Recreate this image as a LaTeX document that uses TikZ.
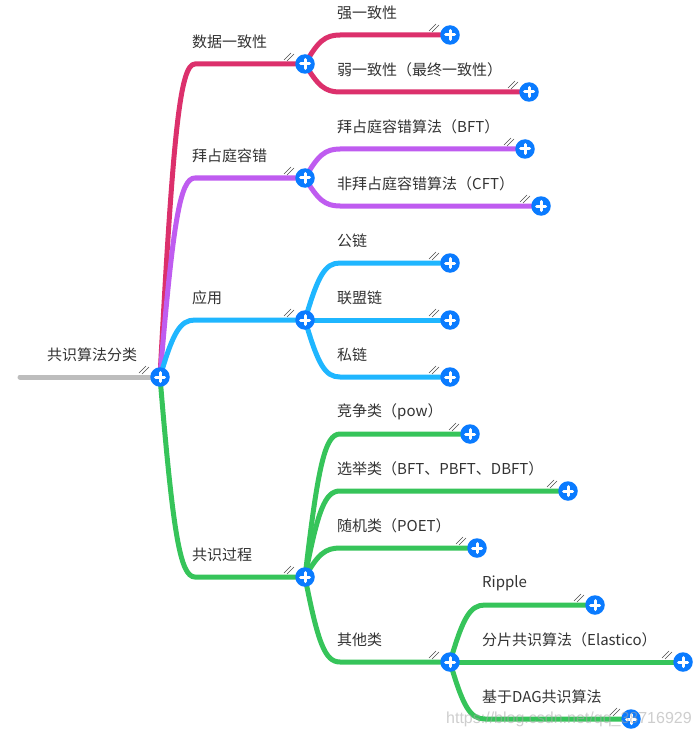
\documentclass[tikz,border=0pt]{standalone}
\usepackage{fontspec}
\setmainfont{Noto Sans CJK SC}
\newfontfamily\wmfont{Liberation Sans}
\usetikzlibrary{calc,backgrounds}
\definecolor{cpink}{HTML}{DC306C}
\definecolor{cpurple}{HTML}{BF5CF0}
\definecolor{cblue}{HTML}{1FB6FF}
\definecolor{cgreen}{HTML}{36C45A}
\definecolor{cgrey}{HTML}{BDBDBD}
\definecolor{ctog}{HTML}{0A7BFF}
\definecolor{ctext}{HTML}{333333}
\tikzset{
  toggle/.style={circle,fill=ctog,minimum size=19.5pt,inner sep=0pt},
  plusbar/.style={line width=3pt,white,line cap=round},
  hashmark/.style={line width=0.6pt,black!70},
  lab/.style={anchor=west,inner sep=0pt,text=ctext,font=\fontsize{15}{18}\selectfont},
  conn/.style={line width=5pt,line cap=round},
  wm/.style={anchor=west,inner sep=0pt,text=black!35,opacity=.55,font=\wmfont\fontsize{16}{20}\selectfont}
}
\newcommand{\togg}[2]{%
  \node[toggle] (#1) at (#2) {};
  \draw[plusbar] ($(#1)+(-4.5,0)$) -- ($(#1)+(4.5,0)$);
  \draw[plusbar] ($(#1)+(0,-4.5)$) -- ($(#1)+(0,4.5)$);
  \draw[hashmark] ($(#1)+(-21,-4)$) -- ($(#1)+(-14,-11)$);
  \draw[hashmark] ($(#1)+(-18,-3)$) -- ($(#1)+(-11,-10)$);
}
% branch from toggle a to toggle b, with a rounded elbow
\newcommand{\branch}[3]{%
  \draw[conn,#3] let \p1=(#1.center),\p2=(#2.center) in
    (\p1) .. controls (\x1+13pt,{\y1+0.78*(\y2-\y1)}) and (\x1+20pt,\y2) .. (\x1+35pt,\y2) -- (\p2);
}
\begin{document}
\begin{tikzpicture}[x=1pt,y=-1pt]
\useasboundingbox (0,0) rectangle (699,738);
\coordinate (start) at (20,377);
\togg{root}{160,377}
\togg{data}{305,64}
\togg{strong}{450,35}
\togg{weak}{529,92}
\togg{byz}{305,178}
\togg{bft}{525,149}
\togg{cft}{541,206}
\togg{app}{305,320}
\togg{pub}{450,263}
\togg{cons}{450,320}
\togg{priv}{450,377}
\togg{proc}{305,577}
\togg{pow}{470,434}
\togg{vote}{568,491}
\togg{rand}{477,548}
\togg{other}{450,662}
\togg{rip}{595,605}
\togg{shard}{683,662}
\togg{dag}{631,719}
\begin{scope}[on background layer]
  \fill[white] (0,0) rectangle (699,738);
  \draw[conn,cgrey] (start) -- (root.center);
  \branch{root}{data}{cpink}
  \branch{data}{strong}{cpink}
  \branch{data}{weak}{cpink}
  \branch{root}{byz}{cpurple}
  \branch{byz}{bft}{cpurple}
  \branch{byz}{cft}{cpurple}
  \branch{root}{app}{cblue}
  \branch{app}{pub}{cblue}
  \branch{app}{cons}{cblue}
  \branch{app}{priv}{cblue}
  \branch{root}{proc}{cgreen}
  \branch{proc}{pow}{cgreen}
  \branch{proc}{vote}{cgreen}
  \branch{proc}{rand}{cgreen}
  \branch{proc}{other}{cgreen}
  \branch{other}{rip}{cgreen}
  \branch{other}{shard}{cgreen}
  \branch{other}{dag}{cgreen}
\end{scope}
\node[lab] (l0) at (47,355) {共识算法分类};
\node[lab] (l1) at (192,42) {数据一致性};
\node[lab] (l2) at (337,13) {强一致性};
\node[lab] (l3) at (337,70) {弱一致性（最终一致性）};
\node[lab] (l4) at (192,156) {拜占庭容错};
\node[lab] (l5) at (337,127) {拜占庭容错算法（BFT）};
\node[lab] (l6) at (337,184) {非拜占庭容错算法（CFT）};
\node[lab] (l7) at (192,298) {应用};
\node[lab] (l8) at (337,241) {公链};
\node[lab] (l9) at (337,298) {联盟链};
\node[lab] (l10) at (337,355) {私链};
\node[lab] (l11) at (192,555) {共识过程};
\node[lab] (l12) at (337,412) {竞争类（pow）};
\node[lab] (l13) at (337,469) {选举类（BFT、PBFT、DBFT）};
\node[lab] (l14) at (337,526) {随机类（POET）};
\node[lab] (l15) at (337,640) {其他类};
\node[lab] (l16) at (482,583) {Ripple};
\node[lab] (l17) at (482,640) {分片共识算法（Elastico）};
\node[lab] (l18) at (482,697) {基于DAG共识算法};
\node[wm] (wm) at (446,719) {https://blog.csdn.net/qq\_38716929};
\end{tikzpicture}
\end{document}
